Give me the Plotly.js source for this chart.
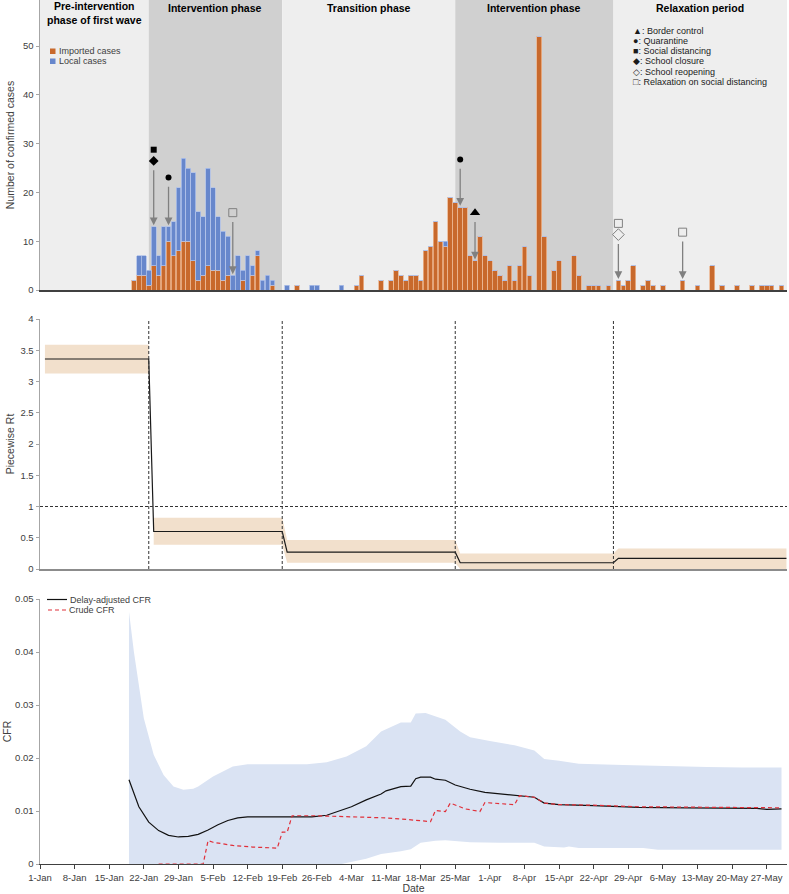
<!DOCTYPE html>
<html><head><meta charset="utf-8">
<script src="https://cdn.plot.ly/plotly-3.0.1.min.js"></script>
<style>html,body{margin:0;padding:0;background:#fff}#chart{width:789px;height:894px}</style>
</head><body><div id="chart"></div>
<script>
// ---------------- DATA ----------------
const caseDates = [
 '2020-01-20','2020-01-21','2020-01-22','2020-01-23','2020-01-24','2020-01-25','2020-01-26','2020-01-27','2020-01-28','2020-01-29','2020-01-30','2020-01-31',
 '2020-02-01','2020-02-02','2020-02-03','2020-02-04','2020-02-05','2020-02-06','2020-02-07','2020-02-08','2020-02-09','2020-02-10','2020-02-11','2020-02-12','2020-02-13','2020-02-14','2020-02-15','2020-02-16','2020-02-17',
 '2020-02-20','2020-02-22','2020-02-25','2020-02-26',
 '2020-03-02','2020-03-05','2020-03-06','2020-03-10','2020-03-12','2020-03-13','2020-03-14','2020-03-15','2020-03-16','2020-03-17','2020-03-18','2020-03-19','2020-03-20','2020-03-21','2020-03-22','2020-03-23','2020-03-24','2020-03-25','2020-03-26','2020-03-27','2020-03-28','2020-03-29','2020-03-30','2020-03-31',
 '2020-04-01','2020-04-02','2020-04-03','2020-04-04','2020-04-05','2020-04-06','2020-04-07','2020-04-08','2020-04-09','2020-04-11','2020-04-12','2020-04-14','2020-04-15','2020-04-18','2020-04-19','2020-04-21','2020-04-22','2020-04-23','2020-04-25','2020-04-27','2020-04-28','2020-04-29','2020-04-30',
 '2020-05-02','2020-05-03','2020-05-04','2020-05-06','2020-05-10','2020-05-13','2020-05-16','2020-05-18','2020-05-21','2020-05-24','2020-05-26','2020-05-27','2020-05-28','2020-05-30'
];
const importedCases = [
 2,3,3,1,5,3,5,10,7,8,10,10,
 6,2,3,5,4,4,2,3,0,0,2,0,3,7,0,0,1,
 0,1,0,0,
 0,1,3,2,2,4,3,2,3,3,2,8,9,14,10,9,19,18,17,17,7,6,11,7,
 6,4,3,2,5,2,5,9,3,52,11,4,6,7,3,1,1,1,1,2,1,2,5,
 1,2,1,1,2,1,5,1,1,1,1,1,1,1
];
const localCases = [
 0,4,4,3,8,4,8,3,7,13,17,15,
 18,14,12,20,17,11,10,8,3,7,2,7,2,1,2,3,1,
 1,0,1,1,
 1,0,0,0,0,0,0,0,0,0,0,0,0,0,0,1,0,0,0,0,0,0,0,0,
 0,0,0,0,0,0,0,0,0,0,0,0,0,0,0,0,0,0,0,0,0,0,0,
 0,0,0,0,0,0,0,0,0,0,0,0,0,0
];

const phaseNames = ['Pre-intervention<br>phase of first wave','Intervention phase','Transition phase','Intervention phase','Relaxation period'];
const phaseStarts = ['2020-01-01','2020-01-23','2020-02-19','2020-03-25','2020-04-26'];
const phaseEnd = '2020-05-31 02:40';

const eventDates = ['2020-01-24','2020-01-27','2020-02-09','2020-03-26','2020-03-29','2020-04-27','2020-05-10'];
const eventMeasures = [
 ['School closure','Social distancing'],
 ['Quarantine'],
 ['Relaxation on social distancing'],
 ['Quarantine'],
 ['Border control'],
 ['School reopening','Relaxation on social distancing'],
 ['Relaxation on social distancing']
];
const measureNames = ['Border control','Quarantine','Social distancing','School closure','School reopening','Relaxation on social distancing'];
const measureGlyphs = ['▲','●','■','◆','◇','□'];

const rtDates = ['2020-01-02','2020-01-23','2020-01-24','2020-02-19','2020-02-20','2020-03-25','2020-03-26','2020-04-26','2020-04-27','2020-05-31'];
const rtMean  = [3.36,3.36,0.60,0.60,0.27,0.27,0.10,0.10,0.17,0.17];
const rtLower = [3.13,3.13,0.39,0.39,0.10,0.10,0.00,0.00,0.00,0.00];
const rtUpper = [3.59,3.59,0.82,0.82,0.465,0.465,0.25,0.25,0.33,0.33];

const cfrAdjDates = ['2020-01-19','2020-01-21','2020-01-23','2020-01-25','2020-01-27','2020-01-29','2020-01-31','2020-02-02','2020-02-04','2020-02-06','2020-02-08','2020-02-10','2020-02-12','2020-02-25','2020-02-28','2020-03-01','2020-03-04','2020-03-07','2020-03-10','2020-03-11','2020-03-13','2020-03-14','2020-03-16','2020-03-17','2020-03-18','2020-03-20','2020-03-21','2020-03-23','2020-03-25','2020-03-28','2020-03-31','2020-04-04','2020-04-08','2020-04-10','2020-04-12','2020-04-15','2020-04-22','2020-05-01','2020-05-11','2020-05-25','2020-05-27','2020-05-30'];
const cfrAdjusted = [0.0159,0.0108,0.0079,0.0063,0.0054,0.0051,0.0052,0.0056,0.0064,0.0074,0.0082,0.0087,0.0089,0.0089,0.0092,0.0098,0.0108,0.0121,0.0132,0.0138,0.0144,0.0146,0.0147,0.0161,0.0164,0.0164,0.0160,0.0158,0.0149,0.0141,0.0135,0.0131,0.0128,0.0126,0.0115,0.0112,0.0110,0.0107,0.0106,0.0105,0.0103,0.0104];

const cfrCrudeDates = ['2020-01-25','2020-02-03','2020-02-04','2020-02-05','2020-02-09','2020-02-13','2020-02-18','2020-02-19','2020-02-20','2020-02-21','2020-02-26','2020-03-01','2020-03-07','2020-03-11','2020-03-14','2020-03-20','2020-03-21','2020-03-23','2020-03-24','2020-03-27','2020-03-30','2020-03-31','2020-04-06','2020-04-07','2020-04-10','2020-04-12','2020-04-15','2020-04-22','2020-05-01','2020-05-11','2020-05-25','2020-05-30'];
const cfrCrude = [0,0,0.0044,0.0041,0.0035,0.0032,0.0030,0.0060,0.0060,0.0091,0.0091,0.0090,0.0089,0.0087,0.0085,0.0080,0.0101,0.0099,0.0115,0.0104,0.0099,0.0116,0.0112,0.0129,0.0126,0.0115,0.0112,0.0111,0.0108,0.0107,0.0106,0.0106];

const ciUpperDates = ['2020-01-19','2020-01-20','2020-01-22','2020-01-24','2020-01-26','2020-01-28','2020-01-30','2020-02-01','2020-02-02','2020-02-05','2020-02-09','2020-02-12','2020-02-24','2020-02-28','2020-03-03','2020-03-07','2020-03-10','2020-03-12','2020-03-14','2020-03-16','2020-03-17','2020-03-19','2020-03-23','2020-03-26','2020-03-28','2020-04-01','2020-04-06','2020-04-10','2020-04-12','2020-04-15','2020-04-19','2020-04-28','2020-05-05','2020-05-15','2020-05-22','2020-05-30'];
const ciUpper = [0.0476,0.0400,0.0275,0.0206,0.0168,0.0146,0.0140,0.0142,0.0146,0.0165,0.0184,0.0188,0.0188,0.0192,0.0203,0.0222,0.0250,0.0259,0.0267,0.0267,0.0284,0.0285,0.0272,0.0250,0.0239,0.0232,0.0224,0.0214,0.0198,0.0195,0.0189,0.0187,0.0185,0.0183,0.0182,0.0182];
const ciLowerDates = ['2020-01-19','2020-03-02','2020-03-04','2020-03-07','2020-03-10','2020-03-12','2020-03-14','2020-03-16','2020-03-18','2020-03-21','2020-03-23','2020-03-28','2020-04-03','2020-04-10','2020-04-12','2020-04-16','2020-04-17','2020-04-19','2020-05-02','2020-05-05','2020-05-30'];
const ciLower = [0,0,0.0004,0.0010,0.0019,0.0021,0.0024,0.0028,0.0040,0.0044,0.0045,0.0041,0.0040,0.0040,0.0033,0.0031,0.0033,0.0030,0.0030,0.0027,0.0027];

// ---------------- STYLE ----------------
const ORANGE = '#C8692C', BLUE = '#6787CC';
const LIGHT = '#EEEEEE', DARK = '#D0D0D0';
const TAN = '#F2E0CC', CIBLUE = '#DAE3F3', RED = '#E0303A';
const L = 40, PW = 747, PH = 864;
const px = p => (p - L) / PW;
const py = p => (PH - p) / PH;
const FONT = 'Liberation Sans, Arial, sans-serif';

// ---------------- TRACES ----------------
const traces = [];
traces.push({type:'bar', x:caseDates, y:importedCases, name:'Imported cases', xaxis:'x', yaxis:'y',
  marker:{color:ORANGE, line:{color:'#EBB48E', width:0.8}}, hoverinfo:'x+y'});
traces.push({type:'bar', x:caseDates, y:localCases, name:'Local cases', xaxis:'x', yaxis:'y',
  marker:{color:BLUE, line:{color:'#AFC1E8', width:0.8}}, hoverinfo:'x+y'});

// event markers and arrows
const totalOn = {};
caseDates.forEach((d,i)=>{ totalOn[d] = importedCases[i] + localCases[i]; });
const arrowLen = [11.6, 8.2, 11, 7.9, 8, 7.5, 8];
const symbolOf = {'Border control':'triangle-up','Quarantine':'circle','Social distancing':'square','School closure':'diamond','School reopening':'diamond-open','Relaxation on social distancing':'square-open'};
const sizeOf = {'triangle-up':9,'circle':6,'square':6,'diamond':7.5,'diamond-open':9,'square-open':8};
const annotations = [];
const evX = {}, evY = {};
eventDates.forEach((d,i)=>{
  const tip = totalOn[d] + 0.25;
  const tail = tip + arrowLen[i];
  annotations.push({x:d, y:tip, ax:d, ay:tail, xref:'x', yref:'y', axref:'x', ayref:'y', text:'',
    showarrow:true, arrowhead:2, arrowsize:1.2, arrowwidth:1.3, arrowcolor:'#808080', standoff:0});
  let yy = tail + 1.6;
  eventMeasures[i].forEach(m=>{
    (evX[m] = evX[m] || []).push(d);
    (evY[m] = evY[m] || []).push(yy);
    yy += 2.3;
  });
});
Object.keys(evX).forEach(m=>{
  const s = symbolOf[m];
  const open = s.indexOf('open') >= 0;
  traces.push({type:'scatter', mode:'markers', x:evX[m], y:evY[m], xaxis:'x', yaxis:'y', name:m, hoverinfo:'name',
    marker:{symbol:s, size:sizeOf[s], color: open ? '#808080' : '#000', line:{width: open ? 1 : 0, color:'#808080'}}});
});

// Rt bands
function band(dates, lo, hi, i0, i1, color, xa, ya){
  const xs = [], ys = [];
  for(let i=i0;i<=i1;i++){ xs.push(dates[i]); ys.push(hi[i]); }
  for(let i=i1;i>=i0;i--){ xs.push(dates[i]); ys.push(lo[i]); }
  return {type:'scatter', mode:'lines', x:xs, y:ys, fill:'toself', fillcolor:color, line:{width:0}, xaxis:xa, yaxis:ya, hoverinfo:'skip'};
}
traces.push(band(rtDates, rtLower, rtUpper, 0, 1, TAN, 'x2', 'y2'));
traces.push(band(rtDates, rtLower, rtUpper, 2, rtDates.length-1, TAN, 'x2', 'y2'));
traces.push({type:'scatter', mode:'lines', x:rtDates, y:rtMean, xaxis:'x2', yaxis:'y2', name:'Piecewise Rt',
  line:{color:'#1a1a1a', width:1.2}});

// CFR
traces.push({type:'scatter', mode:'lines', x:ciUpperDates.concat(ciLowerDates.slice().reverse()),
  y:ciUpper.concat(ciLower.slice().reverse()), fill:'toself', fillcolor:CIBLUE, line:{width:0},
  xaxis:'x3', yaxis:'y3', hoverinfo:'skip', name:'95% CI'});
traces.push({type:'scatter', mode:'lines', x:cfrAdjDates, y:cfrAdjusted, xaxis:'x3', yaxis:'y3', name:'Delay-adjusted CFR',
  line:{color:'#111', width:1.2}});
traces.push({type:'scatter', mode:'lines', x:cfrCrudeDates, y:cfrCrude, xaxis:'x3', yaxis:'y3', name:'Crude CFR',
  line:{color:RED, width:1.2, dash:'4px,3px'}});

// ---------------- SHAPES ----------------
const shapes = [];
const bounds = phaseStarts.concat([phaseEnd]);
for(let i=0;i<phaseStarts.length;i++){
  shapes.push({type:'rect', layer:'below', xref:'x', yref:'y domain', x0:bounds[i], x1:bounds[i+1], y0:0, y1:1,
    fillcolor: (i%2===1) ? DARK : LIGHT, line:{width:0}});
  const mid = new Date((Date.parse(bounds[i].replace(' ','T')+'Z') + Date.parse(bounds[i+1].replace(' ','T')+'Z'))/2).toISOString().slice(0,19).replace('T',' ');
  annotations.push({x:mid, xref:'x', y: i===0 ? py(13) : py(7.5), yref:'paper', yanchor:'middle', xanchor:'center',
    text:'<b>'+phaseNames[i]+'</b>', showarrow:false, font:{size:10.5, color:'#000', family:FONT}});
}
for(let i=1;i<phaseStarts.length;i++){
  shapes.push({type:'line', xref:'x2', yref:'y2 domain', x0:phaseStarts[i], x1:phaseStarts[i], y0:0, y1:1,
    line:{color:'#333', width:1, dash:'3px,2px'}});
}
shapes.push({type:'line', xref:'x2 domain', yref:'y2', x0:0, x1:1, y0:1, y1:1, line:{color:'#333', width:1, dash:'3px,2px'}});

// custom legends
shapes.push({type:'rect', xref:'paper', yref:'paper', x0:px(50), x1:px(55.5), y0:py(48.5), y1:py(54), fillcolor:ORANGE, line:{width:0}});
shapes.push({type:'rect', xref:'paper', yref:'paper', x0:px(50), x1:px(55.5), y0:py(58.5), y1:py(64), fillcolor:BLUE, line:{width:0}});
annotations.push({xref:'paper', yref:'paper', x:px(57), y:py(51.3), xanchor:'left', yanchor:'middle', text:'Imported cases', showarrow:false, font:{size:9, color:'#404040'}});
annotations.push({xref:'paper', yref:'paper', x:px(57), y:py(61.3), xanchor:'left', yanchor:'middle', text:'Local cases', showarrow:false, font:{size:9, color:'#404040'}});

shapes.push({type:'line', xref:'paper', yref:'paper', x0:px(47), x1:px(67), y0:py(599.5), y1:py(599.5), line:{color:'#111', width:1.2}});
shapes.push({type:'line', xref:'paper', yref:'paper', x0:px(48), x1:px(67), y0:py(610), y1:py(610), line:{color:RED, width:1.2, dash:'4px,3px'}});
annotations.push({xref:'paper', yref:'paper', x:px(67.5), y:py(599.5), xanchor:'left', yanchor:'middle', text:'Delay-adjusted CFR', showarrow:false, font:{size:9, color:'#404040'}});
annotations.push({xref:'paper', yref:'paper', x:px(66.5), y:py(610), xanchor:'left', yanchor:'middle', text:'Crude CFR', showarrow:false, font:{size:9, color:'#404040'}});

const legY = [31, 41, 51, 61, 71.5, 82];
measureNames.forEach((m,i)=>{
  annotations.push({xref:'paper', yref:'paper', x:px(631), y:py(legY[i]), xanchor:'left', yanchor:'middle', showarrow:false,
    text:measureGlyphs[i]+': '+m, font:{size:9, color:'#1a1a1a', family:'Liberation Sans, DejaVu Sans, sans-serif'}});
});

// ---------------- LAYOUT ----------------
const xCommon = {type:'date', range:[phaseStarts[0], phaseEnd], showgrid:false, zeroline:false, fixedrange:true};
const yCommon = {showgrid:false, zeroline:false, showline:true, linecolor:'#a6a6a6', linewidth:1.5,
  ticks:'outside', ticklen:3, tickcolor:'#a6a6a6', fixedrange:true, tickfont:{size:9.5, color:'#404040'}};
const layout = {
  width:789, height:894, margin:{l:L, r:2, t:0, b:30},
  paper_bgcolor:'#fff', plot_bgcolor:'rgba(0,0,0,0)', showlegend:false, barmode:'stack', bargap:0.06,
  font:{family:FONT, size:9.5, color:'#404040'},
  xaxis:Object.assign({}, xCommon, {anchor:'y', showline:true, linecolor:'#404040', linewidth:1.5, showticklabels:false, ticks:''}),
  xaxis2:Object.assign({}, xCommon, {anchor:'y2', showline:true, linecolor:'#8c8c8c', linewidth:1.5, showticklabels:false, ticks:''}),
  xaxis3:Object.assign({}, xCommon, {anchor:'y3', showline:true, linecolor:'#404040', linewidth:1.3, ticks:'outside', ticklen:4,
    tickcolor:'#404040', tick0:'2020-01-01', dtick:7*86400000, tickformat:'%-d-%b', tickfont:{size:9.5, color:'#404040'},
    title:{text:'Date', font:{size:10.5, color:'#404040'}, standoff:2}}),
  yaxis:Object.assign({}, yCommon, {domain:[py(290), 1], range:[0, 290/4.88], tickvals:[0,10,20,30,40,50],
    title:{text:'Number of confirmed cases', font:{size:10.5, color:'#404040'}, standoff:6}}),
  yaxis2:Object.assign({}, yCommon, {domain:[py(569), py(319)], range:[0,4], dtick:0.5,
    title:{text:'Piecewise Rt', font:{size:10.5, color:'#404040'}, standoff:3}}),
  yaxis3:Object.assign({}, yCommon, {domain:[0, py(599)], range:[0,0.05], dtick:0.01,
    title:{text:'CFR', font:{size:10.5, color:'#404040'}, standoff:1}}),
  shapes:shapes, annotations:annotations
};
Plotly.newPlot('chart', traces, layout, {displayModeBar:false, staticPlot:true});
</script></body></html>
